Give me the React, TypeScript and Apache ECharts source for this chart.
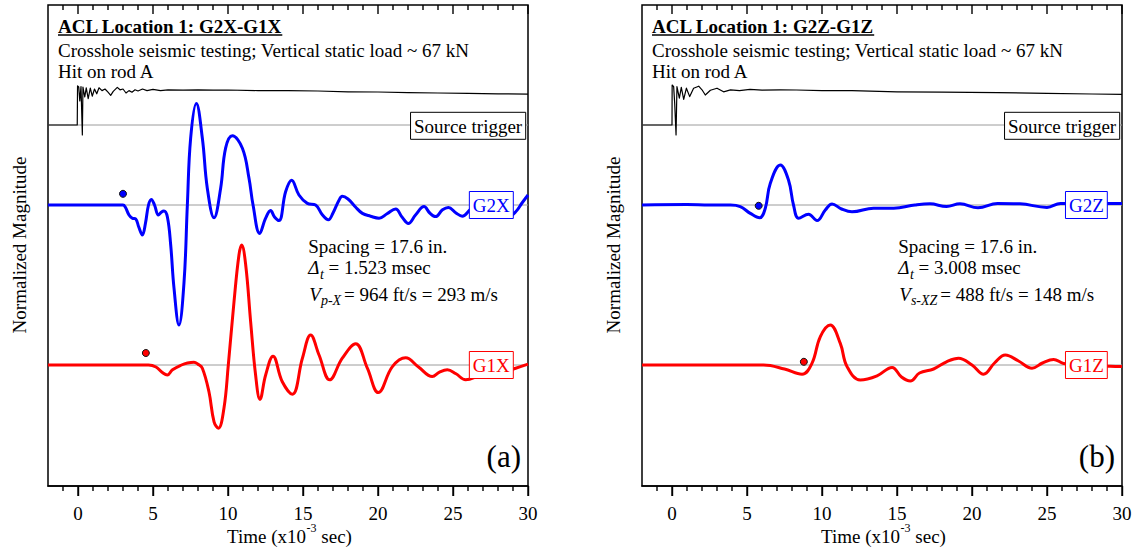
import React, { useEffect, useRef } from "react";
import * as echarts from "echarts";

type Pt = [number, number];

const FONT = '"Liberation Serif", "Times New Roman", Times, serif';

// ---- axis ticks (time, x10^-3 s) ----
const timeMajorTicks = [0, 5, 10, 15, 20, 25, 30];
const timeMinorTicks = [-1, 1, 2, 3, 4, 6, 7, 8, 9, 11, 12, 13, 14, 16, 17, 18, 19, 21, 22, 23, 24, 26, 27, 28, 29];
const TIME_MIN = -2;
const TIME_MAX = 30;

// ---- panel (a): G2X / G1X records ----
const triggerA: Pt[] = [
  [-2, 0], [-0.05, 0], [-0.03, 0.98], [0.05, 0.95], [0.12, 0.6], [0.2, 0.96], [0.29, -0.25],
  [0.33, 0.95], [0.45, 0.7], [0.55, 0.93], [0.68, 0.66], [0.82, 0.92], [0.95, 0.72], [1.1, 0.9],
  [1.25, 0.78], [1.4, 0.93], [1.6, 0.86], [1.8, 0.9], [2.0, 0.82], [2.18, 0.74], [2.35, 0.84],
  [2.62, 0.94], [2.8, 0.88], [3.0, 0.9], [3.2, 0.8], [3.4, 0.86], [3.6, 0.82], [3.8, 0.88],
  [4.0, 0.85], [4.3, 0.9], [4.6, 0.86], [5.0, 0.89], [5.5, 0.86], [6.0, 0.88], [7.0, 0.87],
  [8.0, 0.88], [9.0, 0.87], [10, 0.875], [12, 0.86], [14, 0.86], [16, 0.85], [18, 0.83],
  [20, 0.825], [22, 0.81], [24, 0.8], [26, 0.79], [28, 0.78], [30, 0.77],
];

const g2x: Pt[] = [
  [-2, 0], [3.0, 0], [3.15, -0.05], [3.4, -0.25], [3.62, -0.33], [3.85, -0.35], [4.05, -0.55],
  [4.29, -0.75], [4.5, -0.45], [4.7, 0.0], [4.89, 0.14], [5.1, 0.0], [5.36, -0.25], [5.55, -0.18],
  [5.73, -0.15], [5.96, -0.3], [6.18, -1.0], [6.4, -2.08], [6.73, -3.0], [7.07, -1.92], [7.29, 0],
  [7.51, 1.67], [7.89, 2.54], [8.29, 1.67], [8.62, 0.42], [9.07, -0.32], [9.51, 0.42], [9.84, 1.42],
  [10.29, 1.73], [10.96, 1.42], [11.4, 0.67], [11.67, 0], [12.11, -0.71], [12.51, -0.33],
  [12.84, -0.14], [13.1, -0.3], [13.4, -0.39], [13.84, 0.33], [14.24, 0.62], [14.73, 0.25],
  [15.29, 0.04], [15.84, 0.0], [16.3, -0.25], [16.69, -0.37], [17.0, -0.2], [17.4, 0.12],
  [17.62, 0.22], [18.0, 0.15], [18.5, -0.05], [18.96, -0.21], [19.5, -0.28], [20.07, -0.33],
  [20.6, -0.22], [21.18, -0.1], [21.6, -0.3], [22.02, -0.46], [22.5, -0.25], [23.07, -0.04],
  [23.45, -0.2], [23.84, -0.29], [24.3, -0.12], [24.69, -0.06], [25.2, -0.2], [25.62, -0.28],
  [26.2, -0.1], [27.0, 0.05], [28.0, -0.15], [28.7, -0.28], [29.18, -0.17], [29.6, 0.05], [30, 0.25],
];

const g1x: Pt[] = [
  [-2, 0], [4.7, 0], [5.2, -0.05], [5.6, -0.18], [5.96, -0.25], [6.3, -0.12], [6.9, 0.0],
  [7.3, 0.05], [7.73, 0.07], [8.0, 0.02], [8.29, -0.08], [8.73, -0.67], [9.07, -1.42],
  [9.36, -1.58], [9.73, -1.08], [10.02, 0], [10.4, 1.58], [10.73, 2.75], [10.91, 3.0],
  [11.18, 2.5], [11.51, 1.08], [11.84, -0.25], [12.13, -0.86], [12.51, -0.25], [13.0, 0.22],
  [13.62, -0.42], [14.29, -0.73], [14.96, 0.17], [15.51, 0.75], [16.07, 0.25], [16.78, -0.37],
  [17.62, 0.17], [18.51, 0.53], [19.29, -0.08], [20.02, -0.69], [20.96, -0.04], [21.84, 0.18],
  [22.7, -0.05], [23.62, -0.29], [24.1, -0.18], [24.62, -0.12], [25.2, -0.22], [25.84, -0.37],
  [26.5, -0.3], [27.5, -0.1], [28.5, -0.15], [29.18, -0.08], [30, 0.02],
];

// first-arrival picks (time, height of marker above trace baseline)
const pickG2X: Pt = [3.0, 0.28];
const pickG1X: Pt = [4.523, 0.3];

// ---- panel (b): G2Z / G1Z records ----
const triggerB: Pt[] = [
  [-2, 0], [0, 0], [0.01, 1.0], [0.11, 0.96], [0.18, 0.54], [0.27, -0.25], [0.33, 0.96],
  [0.49, 0.67], [0.62, 0.94], [0.78, 0.64], [0.96, 0.92], [1.18, 0.71], [1.44, 0.92],
  [1.78, 0.97], [2.0, 0.88], [2.22, 0.75], [2.56, 0.87], [3.0, 0.92], [3.44, 0.83], [3.9, 0.88],
  [4.5, 0.86], [5.2, 0.89], [6, 0.87], [7.2, 0.88], [8.3, 0.875], [10, 0.86], [12, 0.86],
  [15, 0.83], [18, 0.82], [21.7, 0.81], [25, 0.79], [28, 0.775], [30, 0.767],
];

const g2z: Pt[] = [
  [-2, 0], [1, 0.01], [2.5, 0.0], [3.9, 0.0], [4.55, -0.04], [5.22, -0.21], [5.84, -0.32],
  [6.22, -0.08], [6.55, 0.54], [7.22, 1.0], [7.77, 0.62], [8.1, 0], [8.44, -0.33], [9.1, -0.23],
  [9.67, -0.39], [10.22, -0.125], [10.67, 0.025], [11.3, -0.1], [12.0, -0.17], [13.44, -0.08],
  [14.78, -0.08], [16.2, 0], [17.2, 0.03], [18.3, -0.04], [19.2, 0.03], [20.4, -0.07],
  [21.7, 0.04], [23.2, 0.03], [25.0, -0.06], [25.9, 0.04], [27.5, 0.03], [29.0, 0.04], [30, 0.04],
];

const g1z: Pt[] = [
  [-2, 0], [6.1, 0], [7.5, -0.1], [8.67, -0.23], [9.33, 0.04], [9.89, 0.71], [10.55, 1.0],
  [11.22, 0.54], [11.67, -0.04], [12.55, -0.375], [13.67, -0.27], [14.67, -0.06], [15.3, -0.3],
  [15.89, -0.4], [16.5, -0.2], [17.44, -0.1], [18.3, 0.08], [19.1, 0.17], [20.0, 0.0],
  [20.77, -0.23], [21.5, 0.05], [22.22, 0.25], [23.1, 0.1], [24.0, -0.08], [24.7, 0.05],
  [25.44, 0.14], [26.1, 0.04], [27.5, 0.0], [29.2, -0.03], [30, -0.04],
];

const pickG2Z: Pt = [5.78, -0.02];
const pickG1Z: Pt = [8.79, 0.08];

// ---- text ----
const titleA = "ACL Location 1: G2X-G1X";
const titleB = "ACL Location 1: G2Z-G1Z";
const testNote = "Crosshole seismic testing; Vertical static load ~ 67 kN";
const hitNote = "Hit on rod A";
const spacingNote = "Spacing = 17.6 in.";
const dtValueA = "= 1.523 msec";
const dtValueB = "= 3.008 msec";
const velSubA = "p-X";
const velSubB = "s-XZ";
const velValueA = "= 964 ft/s = 293 m/s";
const velValueB = "= 488 ft/s = 148 m/s";
const yName = "Normalized Magnitude";

// ---- drawing helpers ----
const BLUE = "#0000ff";
const RED = "#ff0000";
const GRID_TOP = 5;
const GRID_H = 481;
const GRID_W = 480;
const PX_PER_UNIT = 40;
const Y_MAX = 3;
const Y_MIN = Y_MAX - GRID_H / PX_PER_UNIT;
// vertical placement of the three traces in each panel
const LEVEL_TRIGGER = 0;
const LEVEL_UPPER = -2;
const LEVEL_LOWER = -6;

let measureCtx: CanvasRenderingContext2D | null = null;
function fontStr(size: number, italic = false, bold = false) {
  return `${italic ? "italic " : ""}${bold ? "bold " : ""}${size}px ${FONT}`;
}
function textWidth(s: string, size: number, italic = false, bold = false) {
  if (!measureCtx) measureCtx = document.createElement("canvas").getContext("2d");
  measureCtx!.font = fontStr(size, italic, bold);
  return measureCtx!.measureText(s).width;
}

type Piece = { text: string; size: number; italic?: boolean; bold?: boolean; dy?: number; gap?: number };

// baseline-anchored text helper (middle anchor sits ~0.3375em above baseline)
function textAt(x: number, baseline: number, text: string, size: number, opts: any = {}) {
  return {
    type: "text",
    z: 60,
    style: {
      x,
      y: baseline - 0.3375 * size,
      text,
      font: fontStr(size, opts.italic, opts.bold),
      fill: opts.color || "#000",
      align: opts.align || "left",
      textAlign: opts.align || "left",
      verticalAlign: "middle",
      textVerticalAlign: "middle",
    },
  };
}

function runText(x: number, baseline: number, pieces: Piece[], color = "#000") {
  const out: any[] = [];
  let cx = x;
  for (const p of pieces) {
    cx += p.gap || 0;
    out.push(textAt(cx, baseline + (p.dy || 0), p.text, p.size, { italic: p.italic, bold: p.bold, color }));
    cx += textWidth(p.text, p.size, p.italic, p.bold);
  }
  return out;
}

function runWidth(pieces: Piece[]) {
  return pieces.reduce((w, p) => w + (p.gap || 0) + textWidth(p.text, p.size, p.italic, p.bold), 0);
}

function labelBox(rightX: number, centerY: number, text: string, color: string) {
  const size = 19;
  const w = textWidth(text, size) + 7;
  const h = 27;
  return [
    {
      type: "rect",
      z: 55,
      shape: { x: rightX - w, y: centerY - h / 2, width: w, height: h },
      style: { fill: "#fff", stroke: color, lineWidth: 1 },
    },
    {
      type: "text",
      z: 60,
      style: {
        x: rightX - w / 2,
        y: centerY + 0.5,
        text,
        font: fontStr(size),
        fill: color,
        align: "center",
        textAlign: "center",
        verticalAlign: "middle",
        textVerticalAlign: "middle",
      },
    },
  ];
}

function panelGraphics(p: {
  left: number;
  title: string;
  dtValue: string;
  velSub: string;
  velValue: string;
  upperLabel: string;
  lowerLabel: string;
  tag: string;
  noteX: number;
}) {
  const els: any[] = [];
  const tx = p.left + 10;
  const right = p.left + GRID_W;
  // title block
  els.push(textAt(tx, 33.3, p.title, 19, { bold: true }));
  const tw = textWidth(p.title, 19, false, true);
  els.push({ type: "line", z: 60, shape: { x1: tx, y1: 35, x2: tx + tw, y2: 35 }, style: { stroke: "#000", lineWidth: 1.3 } });
  els.push(textAt(tx, 56.7, testNote, 19));
  els.push(textAt(tx, 78.3, hitNote, 19));

  // trace labels
  els.push(...labelBox(right - 2.3, 125.8, "Source trigger", "#000"));
  els.push(...labelBox(right - 14.7, 205, p.upperLabel, BLUE));
  els.push(...labelBox(right - 14.7, 365, p.lowerLabel, RED));

  // spacing / travel time / velocity note
  els.push(textAt(p.noteX, 253.3, spacingNote, 19));
  els.push(
    ...runText(p.noteX, 274, [
      { text: "\u0394", size: 19, italic: true },
      { text: "t", size: 14, italic: true, dy: 5, gap: 0.5 },
      { text: p.dtValue, size: 19, gap: textWidth(" ", 19) },
    ])
  );
  els.push(
    ...runText(p.noteX + 1, 301, [
      { text: "V", size: 19, italic: true },
      { text: p.velSub, size: 14, italic: true, dy: 4 },
      { text: p.velValue, size: 19, gap: textWidth(" ", 19) * 0.6 },
    ])
  );

  // panel tag
  els.push(textAt(right - 7, 466.5, p.tag, 31, { align: "right" }));

  // axis titles
  const namePieces: Piece[] = [
    { text: "Time (x10", size: 19 },
    { text: "-3", size: 12, dy: -11, gap: 0.5 },
    { text: "sec)", size: 19, gap: textWidth(" ", 19) },
  ];
  const nameCenter = p.left + 241.5;
  els.push(...runText(nameCenter - runWidth(namePieces) / 2, 543.3, namePieces));
  els.push({
    type: "text",
    z: 60,
    x: p.left - 29,
    y: 245,
    rotation: Math.PI / 2,
    style: {
      x: 0,
      y: 0,
      text: yName,
      font: fontStr(19),
      fill: "#000",
      align: "center",
      textAlign: "center",
      verticalAlign: "middle",
      textVerticalAlign: "middle",
    },
  });
  return els;
}

const shift = (pts: Pt[], level: number): Pt[] => pts.map(([t, v]) => [t, v + level]);

function panelSeries(xAxisIndex: number, yAxisIndex: number, trig: Pt[], upper: Pt[], lower: Pt[], pickU: Pt, pickL: Pt) {
  const base = (level: number) => ({
    type: "line",
    xAxisIndex,
    yAxisIndex,
    data: [[TIME_MIN, level], [TIME_MAX, level]],
    symbol: "none",
    silent: true,
    z: 1,
    lineStyle: { color: "#9c9c9c", width: 1 },
  });
  const trace = (pts: Pt[], level: number, color: string, width: number, smooth: number | boolean) => ({
    type: "line",
    xAxisIndex,
    yAxisIndex,
    data: shift(pts, level),
    symbol: "none",
    smooth,
    silent: true,
    z: 3,
    lineStyle: { color, width, join: "round" },
  });
  const dot = (pt: Pt, level: number, color: string) => ({
    type: "scatter",
    xAxisIndex,
    yAxisIndex,
    data: [[pt[0], pt[1] + level]],
    symbol: "circle",
    symbolSize: 7,
    silent: true,
    z: 6,
    itemStyle: { color, borderColor: "#101010", borderWidth: 1, opacity: 1 },
  });
  return [
    base(LEVEL_TRIGGER),
    base(LEVEL_UPPER),
    base(LEVEL_LOWER),
    trace(trig, LEVEL_TRIGGER, "#000", 1.2, false),
    trace(upper, LEVEL_UPPER, BLUE, 3, 0.4),
    trace(lower, LEVEL_LOWER, RED, 3, 0.4),
    dot(pickU, LEVEL_UPPER, BLUE),
    dot(pickL, LEVEL_LOWER, RED),
  ];
}

function timeAxis(gridIndex: number) {
  return {
    type: "value",
    gridIndex,
    min: TIME_MIN,
    max: TIME_MAX,
    position: "bottom",
    splitLine: { show: false },
    axisLine: { show: true, onZero: false, lineStyle: { color: "#000", width: 1.5 } },
    axisTick: { show: true, inside: false, length: 10, customValues: timeMajorTicks, lineStyle: { color: "#000", width: 1.4 } },
    axisLabel: { show: true, customValues: timeMajorTicks, margin: 18, fontFamily: FONT, fontSize: 19, color: "#000" },
  };
}

// Frame tick marks (outward on the bottom edge, inward on the top edge), placed through the grid's scales.
function frameTickElements(chart: echarts.ECharts, gridIndex: number) {
  const els: any[] = [];
  const st = { stroke: "#000", lineWidth: 1.4 };
  const add = (t: number, outLen: number, inLen: number) => {
    const b = chart.convertToPixel({ gridIndex } as any, [t, Y_MIN]) as number[];
    const tp = chart.convertToPixel({ gridIndex } as any, [t, Y_MAX]) as number[];
    if (!b || !tp) return;
    els.push({ type: "line", z: 70, silent: true, shape: { x1: b[0], y1: b[1], x2: b[0], y2: b[1] + outLen }, style: st });
    els.push({ type: "line", z: 70, silent: true, shape: { x1: tp[0], y1: tp[1], x2: tp[0], y2: tp[1] + inLen }, style: st });
  };
  timeMajorTicks.forEach((t) => add(t, 10, 9));
  timeMinorTicks.forEach((t) => add(t, 5, 5));
  return els;
}

export default function App() {
  const ref = useRef<HTMLDivElement>(null);

  useEffect(() => {
    document.body.style.margin = "0";
    if (!ref.current) return;
    const chart = echarts.init(ref.current, undefined, { renderer: "svg" });

    const LEFT_A = 48;
    const LEFT_B = 642;
    const gridBox = (left: number) => ({
      left,
      top: GRID_TOP,
      width: GRID_W,
      height: GRID_H,
      show: true,
      borderColor: "#000",
      borderWidth: 1.5,
      backgroundColor: "transparent",
      containLabel: false,
    });
    const yAxis = (gridIndex: number) => ({
      type: "value",
      gridIndex,
      min: Y_MIN,
      max: Y_MAX,
      axisLine: { show: false },
      axisTick: { show: false },
      axisLabel: { show: false },
      splitLine: { show: false },
    });

    const textElements = [
      ...panelGraphics({
        left: LEFT_A,
        title: titleA,
        dtValue: dtValueA,
        velSub: velSubA,
        velValue: velValueA,
        upperLabel: "G2X",
        lowerLabel: "G1X",
        tag: "(a)",
        noteX: 308.3,
      }),
      ...panelGraphics({
        left: LEFT_B,
        title: titleB,
        dtValue: dtValueB,
        velSub: velSubB,
        velValue: velValueB,
        upperLabel: "G2Z",
        lowerLabel: "G1Z",
        tag: "(b)",
        noteX: 898.3,
      }),
    ];

    const option: any = {
      animation: false,
      grid: [gridBox(LEFT_A), gridBox(LEFT_B)],
      xAxis: [timeAxis(0), timeAxis(1)],
      yAxis: [yAxis(0), yAxis(1)],
      series: [
        ...panelSeries(0, 0, triggerA, g2x, g1x, pickG2X, pickG1X),
        ...panelSeries(1, 1, triggerB, g2z, g1z, pickG2Z, pickG1Z),
      ],
      graphic: { elements: textElements },
    };
    chart.setOption(option);

    let ticks: any[] = [];
    try {
      ticks = [...frameTickElements(chart, 0), ...frameTickElements(chart, 1)];
    } catch (e) {
      ticks = [];
    }
    if (ticks.length) {
      chart.setOption({ graphic: { elements: [...textElements, ...ticks] } });
    }
    return () => chart.dispose();
  }, []);

  return <div ref={ref} style={{ width: 1137, height: 552 }} />;
}
